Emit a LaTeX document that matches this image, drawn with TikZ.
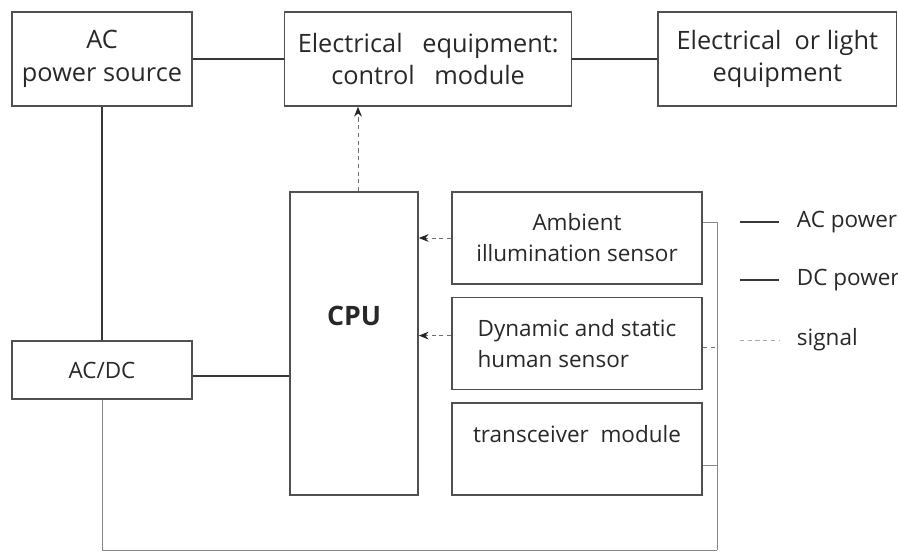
\documentclass[tikz,border=0pt]{standalone}
\usepackage{fontspec}
\setmainfont{Open Sans}
\usetikzlibrary{arrows.meta, positioning}
\usepackage{xcolor}
\definecolor{boxbd}{RGB}{80,80,80}
\definecolor{powercol}{RGB}{55,55,55}
\definecolor{feedcol}{RGB}{135,135,135}
\definecolor{sigcol}{RGB}{110,110,110}
\definecolor{textcol}{RGB}{40,40,40}

\begin{document}
\begin{tikzpicture}[
    x=0.025cm, y=-0.025cm,
    box/.style       = {rectangle, draw=boxbd, line width=1.1pt, align=center,
                        font=\fontsize{16}{22}\selectfont, text=textcol,
                        inner sep=0pt},
    topbox/.style    = {box, minimum height=2.35cm,
                        font=\fontsize{18}{23}\selectfont},
    sensorbox/.style = {box, minimum width=6.25cm, minimum height=2.3cm,
                        align=left},
    powerline/.style = {line width=1.6pt, color=powercol},
    feedline/.style  = {line width=0.7pt, color=feedcol},
    signal/.style    = {dash pattern=on 3pt off 2.5pt, line width=0.7pt,
                        color=sigcol},
    sigarrow/.style  = {signal, -{Stealth[length=7pt,width=5.5pt,color=black!85]}},
    legtext/.style   = {anchor=west, font=\fontsize{16}{22}\selectfont,
                        text=textcol},
]
\useasboundingbox (0,0) rectangle (898,553);

% ── Top row ─────────────────────────────────────────────────────
\node[topbox, minimum width=4.5cm] (acps) at (102,59)
    {AC\\power source};
\node[topbox, minimum width=7.175cm, right=2.275cm of acps] (ecm)
    {Electrical\ \ \ equipment:\\control\ \ \ module};
\node[topbox, minimum width=5.95cm, right=2.125cm of ecm] (ele)
    {Electrical\ \ or light\\equipment};

% ── Converter and CPU ───────────────────────────────────────────
\node[box, minimum width=4.5cm, minimum height=1.45cm] (acdc) at (102,370)
    {AC/DC};
\node[box, minimum width=3.2cm, minimum height=7.575cm] (cpu) at (354,343.5) {};
\node[font=\fontsize{19}{22}\selectfont\bfseries, text=textcol]
    (cputxt) at ([yshift=0.7cm]cpu.center) {CPU};

% ── Sensor column ───────────────────────────────────────────────
\node[sensorbox, align=center] (amb) at (577,238)
    {Ambient\\illumination sensor};
\node[sensorbox, below=0.3cm of amb] (hum)
    {Dynamic and static\\human sensor};
\node[sensorbox, below=0.3cm of hum] (trx)
    {transceiver\ \ module\\\mbox{}};

% ── Power lines ─────────────────────────────────────────────────
\draw[powerline] (acps.east) -- (ecm.west);
\draw[powerline] (ecm.east) -- (ele.west);
\draw[powerline] (acps.south) -- (acdc.north);
\draw[powerline] ([yshift=-0.15cm]acdc.east) -- ([yshift=-0.15cm]acdc.east -| cpu.west);

% ── Supply bus to sensors ───────────────────────────────────────
\coordinate (busbot) at (717,550);
\draw[feedline] ([yshift=0.4cm]amb.east) -| (busbot);
\draw[feedline] ([yshift=-0.42cm]trx.east) -- ([yshift=-0.42cm]trx.east -| busbot);
\draw[feedline] (acdc.south) |- (busbot);
\draw[signal] ([yshift=-0.1cm]hum.east) -- ([yshift=-0.1cm]hum.east -| busbot);

% ── Signal arrows ───────────────────────────────────────────────
\draw[sigarrow] (amb.west) -- (amb.west -| cpu.east);
\draw[sigarrow] ([yshift=0.2cm]hum.west) -- ([yshift=0.2cm]hum.west -| cpu.east);
\draw[sigarrow] ([xshift=0.1cm]cpu.north) -- ([xshift=0.1cm]cpu.north |- ecm.south);

% ── Legend ──────────────────────────────────────────────────────
\coordinate (legac1) at (740,222);  \coordinate (legac2) at (779,222);
\coordinate (legdc1) at (740,280);  \coordinate (legdc2) at (779,280);
\coordinate (legsg1) at (740,340);  \coordinate (legsg2) at (779,340);
\draw[powerline, line width=1.3pt] (legac1) -- (legac2);
\draw[powerline, line width=1.3pt] (legdc1) -- (legdc2);
\draw[signal, color=feedcol!70] (legsg1) -- (legsg2);
\node[legtext] (legac) at (792,222) {AC power};
\node[legtext] (legdc) at (792,280) {DC power};
\node[legtext] (legsg) at (792,340) {signal};

\end{tikzpicture}
\end{document}
